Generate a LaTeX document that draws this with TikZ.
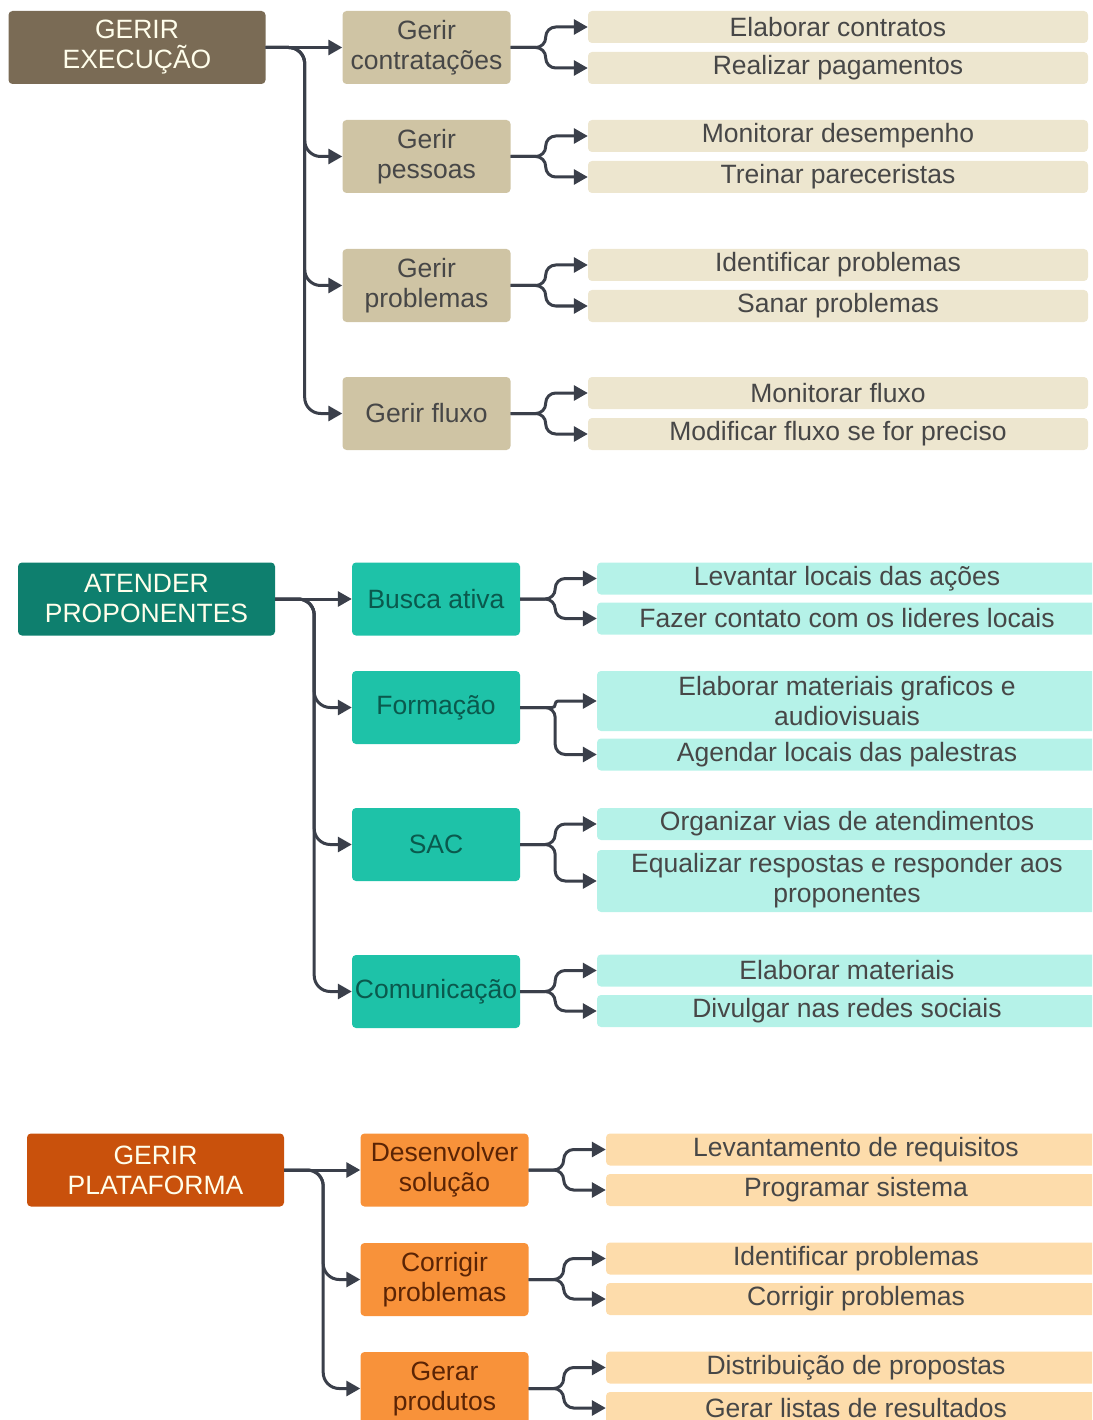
\documentclass[tikz,border=0pt]{standalone}
\usepackage{fontspec}
\setmainfont{Liberation Sans}
\usepackage{tikz}
\usetikzlibrary{positioning}
\usetikzlibrary{arrows.meta}

\definecolor{linec}{HTML}{3A3F4A}
\definecolor{exeA}{HTML}{7A6B55}
\definecolor{exeB}{HTML}{CFC4A4}
\definecolor{exeC}{HTML}{EDE6CF}
\definecolor{ateA}{HTML}{0E7F6E}
\definecolor{ateB}{HTML}{1EC2A8}
\definecolor{ateC}{HTML}{B5F2E8}
\definecolor{plaA}{HTML}{C9510C}
\definecolor{plaB}{HTML}{F8923A}
\definecolor{plaC}{HTML}{FDDCAB}

\begin{document}
\begin{tikzpicture}[x=1pt,y=-1pt,
	box/.style={rounded corners=4pt, align=center, inner sep=0pt, font=\fontsize{26.5}{30}\selectfont},
	root/.style={box, minimum width=257pt, minimum height=73pt, text=white!92!yellow},
	task/.style={box, minimum width=168pt, minimum height=73pt},
	leaf/.style={box, minimum width=500pt, minimum height=32pt, text=black!72},
	conn/.style={draw=linec, line width=3pt, -{Triangle[length=14pt,width=15pt]}, rounded corners=16pt},
	fork/.style={conn, rounded corners=10pt}]
	\useasboundingbox (0,0) rectangle (1092,1420);
	\clip (0,0) rectangle (1092,1420);

	% Gerir Execucao %
	\node [root, fill=exeA] (ge) at (137,47.5) {GERIR\\EXECUÇÃO};
	\node [task, fill=exeB, text=black!72] (gc) at (426.5,47.5) {Gerir\\contratações};
	\node [task, fill=exeB, text=black!72] (gpe) at (426.5,156.5) {Gerir\\pessoas};
	\node [task, fill=exeB, text=black!72] (gpr) at (426.5,285.5) {Gerir\\problemas};
	\node [task, fill=exeB, text=black!72] (gf) at (426.5,413.5) {Gerir fluxo};
	\node [leaf, fill=exeC] (gc1) at (838,27) {Elaborar contratos};
	\node [leaf, fill=exeC] (gc2) at (838,68) {Realizar pagamentos};
	\node [leaf, fill=exeC] (gpe1) at (838,136) {Monitorar desempenho};
	\node [leaf, fill=exeC] (gpe2) at (838,177) {Treinar pareceristas};
	\node [leaf, fill=exeC] (gpr1) at (838,265) {Identificar problemas};
	\node [leaf, fill=exeC] (gpr2) at (838,306) {Sanar problemas};
	\node [leaf, fill=exeC] (gf1) at (838,393) {Monitorar fluxo};
	\node [leaf, fill=exeC] (gf2) at (838,434) {Modificar fluxo se for preciso};
	% trunk %
	\draw [conn] (ge.east) -- (gc.west);
	\foreach \t in {gpe,gpr,gf}
		\draw [conn] (ge.east) -- ++(39,0) |- (\t.west);
	% forks %
	\foreach \t in {gc,gpe,gpr,gf} {
		\draw [fork] (\t.east) -- ++(35,0) |- (\t1.west);
		\draw [fork] (\t.east) -- ++(35,0) |- (\t2.west);
	}

	% Atender Proponentes %
	\node [root, fill=ateA] (ap) at (146.5,599) {ATENDER\\PROPONENTES};
	\node [task, fill=ateB, text=ateA!70!black] (ab) at (436,599) {Busca ativa};
	\node [task, fill=ateB, text=ateA!70!black] (af) at (436,707.5) {Formação};
	\node [task, fill=ateB, text=ateA!70!black] (as) at (436,844.5) {SAC};
	\node [task, fill=ateB, text=ateA!70!black] (ac) at (436,991.5) {Comunicação};
	\node [leaf, fill=ateC] (ab1) at (847,578.5) {Levantar locais das ações};
	\node [leaf, fill=ateC] (ab2) at (847,618.5) {Fazer contato com os lideres locais};
	\node [leaf, fill=ateC, minimum height=60pt] (af1) at (847,701) {Elaborar materiais graficos e\\audiovisuais};
	\node [leaf, fill=ateC] (af2) at (847,754.5) {Agendar locais das palestras};
	\node [leaf, fill=ateC] (as1) at (847,824) {Organizar vias de atendimentos};
	\node [leaf, fill=ateC, minimum height=62pt] (as2) at (847,881) {Equalizar respostas e responder aos\\proponentes};
	\node [leaf, fill=ateC] (ac1) at (847,970.5) {Elaborar materiais};
	\node [leaf, fill=ateC] (ac2) at (847,1011) {Divulgar nas redes sociais};
	% trunk %
	\draw [conn] (ap.east) -- (ab.west);
	\foreach \t in {af,as,ac}
		\draw [conn] (ap.east) -- ++(39,0) |- (\t.west);
	% forks %
	\foreach \t in {ab,as,ac} {
		\draw [fork] (\t.east) -- ++(35,0) |- (\t1.west);
		\draw [fork] (\t.east) -- ++(35,0) |- (\t2.west);
	}
	\draw [fork, rounded corners=3pt] (af.east) -- ++(35,0) |- (af1.west);
	\draw [fork] (af.east) -- ++(35,0) |- (af2.west);

	% Gerir Plataforma %
	\node [root, fill=plaA] (gp) at (155.5,1170) {GERIR\\PLATAFORMA};
	\node [task, fill=plaB, text=plaA!45!black] (pd) at (444.5,1170) {Desenvolver\\solução};
	\node [task, fill=plaB, text=plaA!45!black] (pc) at (444.5,1279.5) {Corrigir\\problemas};
	\node [task, fill=plaB, text=plaA!45!black] (pg) at (444.5,1388.5) {Gerar\\produtos};
	\node [leaf, fill=plaC] (pd1) at (856,1149.5) {Levantamento de requisitos};
	\node [leaf, fill=plaC] (pd2) at (856,1190) {Programar sistema};
	\node [leaf, fill=plaC] (pc1) at (856,1258.5) {Identificar problemas};
	\node [leaf, fill=plaC] (pc2) at (856,1299) {Corrigir problemas};
	\node [leaf, fill=plaC] (pg1) at (856,1367.5) {Distribuição de propostas};
	\node [leaf, fill=plaC] (pg2) at (856,1408) {Gerar listas de resultados};
	% trunk %
	\draw [conn] (gp.east) -- (pd.west);
	\foreach \t in {pc,pg}
		\draw [conn] (gp.east) -- ++(39,0) |- (\t.west);
	% forks %
	\foreach \t in {pd,pc,pg} {
		\draw [fork] (\t.east) -- ++(35,0) |- (\t1.west);
		\draw [fork] (\t.east) -- ++(35,0) |- (\t2.west);
	}
\end{tikzpicture}
\end{document}
